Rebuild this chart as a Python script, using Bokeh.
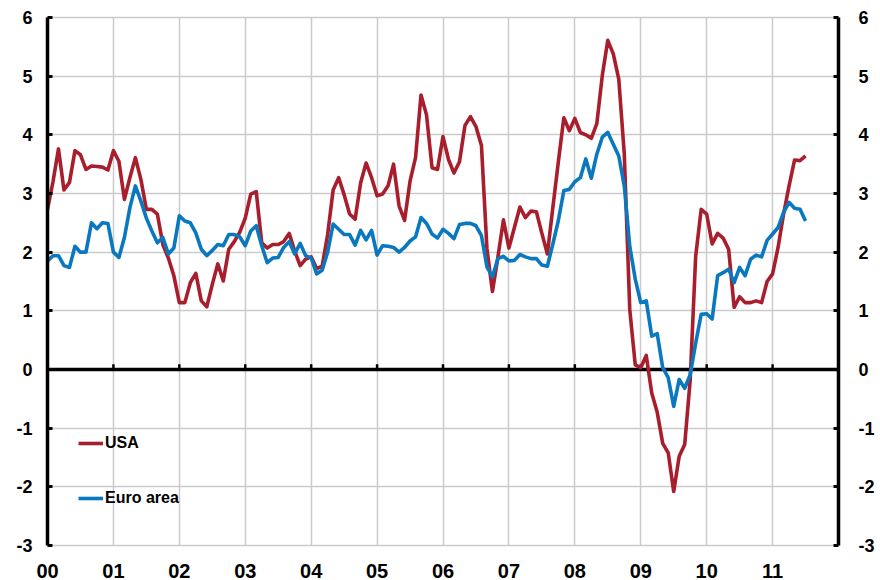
from bokeh.plotting import figure
from bokeh.models import (Range1d, LinearAxis, FixedTicker, Span, Legend, LegendItem)
from bokeh.embed import file_html
from bokeh.resources import INLINE

# ---- data (monthly, Jan 2000 - Jul 2011, % y/y) ----
usa = [
    2.73, 3.20, 3.76, 3.06, 3.19, 3.73, 3.66, 3.41, 3.47, 3.46, 3.45, 3.40,   # 2000
    3.73, 3.55, 2.90, 3.27, 3.61, 3.24, 2.73, 2.73, 2.65, 2.13, 1.90, 1.60,   # 2001
    1.14, 1.14, 1.48, 1.64, 1.17, 1.07, 1.45, 1.80, 1.51, 2.05, 2.18, 2.34,   # 2002
    2.58, 2.99, 3.03, 2.16, 2.07, 2.13, 2.13, 2.18, 2.32, 2.02, 1.77, 1.88,   # 2003
    1.92, 1.72, 1.76, 2.30, 3.06, 3.27, 2.98, 2.65, 2.56, 3.18, 3.52, 3.27,   # 2004
    2.96, 2.99, 3.13, 3.50, 2.79, 2.54, 3.21, 3.61, 4.68, 4.34, 3.44, 3.41,   # 2005
    3.97, 3.58, 3.35, 3.54, 4.16, 4.31, 4.14, 3.82, 2.06, 1.33, 1.92, 2.55,   # 2006
    2.07, 2.42, 2.77, 2.59, 2.70, 2.69, 2.32, 1.97, 2.76, 3.54, 4.29, 4.07,   # 2007
    4.28, 4.04, 4.00, 3.94, 4.19, 5.01, 5.61, 5.38, 4.95, 3.68, 1.02, 0.08,   # 2008
    0.03, 0.24, -0.40, -0.73, -1.26, -1.42, -2.08, -1.48, -1.28, -0.18, 1.93, 2.73,  # 2009
    2.65, 2.14, 2.32, 2.24, 2.05, 1.06, 1.24, 1.14, 1.14, 1.17, 1.14, 1.50,   # 2010
    1.63, 2.08, 2.65, 3.13, 3.57, 3.56, 3.64,                                 # 2011
]
euro = [
    1.85, 1.94, 1.94, 1.77, 1.74, 2.10, 2.00, 2.00, 2.50, 2.40, 2.50, 2.49,   # 2000
    2.00, 1.91, 2.25, 2.76, 3.13, 2.87, 2.58, 2.36, 2.16, 2.25, 1.97, 2.07,   # 2001
    2.62, 2.53, 2.50, 2.33, 2.05, 1.94, 2.03, 2.13, 2.11, 2.30, 2.30, 2.26,   # 2002
    2.11, 2.36, 2.45, 2.11, 1.82, 1.90, 1.91, 2.08, 2.18, 1.97, 2.15, 1.94,   # 2003
    1.90, 1.63, 1.69, 2.00, 2.48, 2.39, 2.30, 2.30, 2.12, 2.37, 2.21, 2.37,   # 2004
    1.95, 2.11, 2.10, 2.08, 2.00, 2.08, 2.19, 2.26, 2.59, 2.49, 2.31, 2.24,   # 2005
    2.39, 2.32, 2.23, 2.47, 2.49, 2.49, 2.45, 2.28, 1.75, 1.58, 1.89, 1.93,   # 2006
    1.85, 1.86, 1.96, 1.92, 1.89, 1.89, 1.78, 1.76, 2.14, 2.54, 3.05, 3.07,   # 2007
    3.20, 3.27, 3.59, 3.26, 3.67, 3.96, 4.04, 3.84, 3.64, 3.13, 2.10, 1.54,   # 2008
    1.14, 1.17, 0.57, 0.61, 0.03, -0.14, -0.63, -0.17, -0.32, -0.09, 0.45, 0.94,  # 2009
    0.95, 0.86, 1.60, 1.65, 1.71, 1.48, 1.74, 1.60, 1.88, 1.95, 1.92, 2.20,   # 2010
    2.31, 2.42, 2.68, 2.85, 2.75, 2.73, 2.53,                                 # 2011
]
year_labels = ["00", "01", "02", "03", "04", "05", "06", "07", "08", "09", "10", "11"]
y_ticks = [-3, -2, -1, 0, 1, 2, 3, 4, 5, 6]
y_labels = ["-3", "-2", "-1", "0", "1", "2", "3", "4", "5", "6"]
series_names = ["USA", "Euro area"]

RED = "#a81e2c"
BLUE = "#0a78be"
GRID = "#cbcbcb"
FONT = "Liberation Sans"

x_usa = [i / 12 for i in range(len(usa))]
x_euro = [i / 12 for i in range(len(euro))]
year_pos = list(range(len(year_labels)))
y_over = {t: s for t, s in zip(y_ticks, y_labels)}

p = figure(width=880, height=580, output_backend="svg", toolbar_location=None,
           x_range=Range1d(0, 12), y_range=Range1d(-3, 6),
           min_border_left=47, min_border_right=42, min_border_top=17,
           min_border_bottom=35, x_axis_location="below")
p.background_fill_color = "white"
p.border_fill_color = "white"
p.outline_line_color = GRID
p.outline_line_width = 1.5

# grids
p.xgrid.ticker = FixedTicker(ticks=list(range(0, 13)))
p.ygrid.ticker = FixedTicker(ticks=y_ticks)
for g in (p.xgrid, p.ygrid):
    g.grid_line_color = GRID
    g.grid_line_width = 1.5

# bottom axis: labels only
xa = p.xaxis[0]
xa.ticker = FixedTicker(ticks=year_pos)
xa.major_label_overrides = {i: lab for i, lab in zip(year_pos, year_labels)}
xa.axis_line_color = None
xa.major_tick_line_color = None
xa.minor_tick_line_color = None
xa.major_label_standoff = 12
xa.major_label_text_font = FONT
xa.major_label_text_font_style = "bold"
xa.major_label_text_font_size = "20px"
xa.major_label_text_color = "black"


def style_y(ax, standoff):
    ax.ticker = FixedTicker(ticks=y_ticks)
    ax.major_label_overrides = y_over
    ax.axis_line_width = 3.5
    ax.axis_line_color = "black"
    ax.major_tick_in = 5
    ax.major_tick_out = 0
    ax.major_tick_line_width = 3
    ax.minor_tick_line_color = None
    ax.major_label_standoff = standoff
    ax.major_label_text_font = FONT
    ax.major_label_text_font_style = "bold"
    ax.major_label_text_font_size = "18px"
    ax.major_label_text_color = "black"


style_y(p.yaxis[0], 15)
ra = LinearAxis()
style_y(ra, 20)
p.add_layout(ra, "right")

# zero line with small year ticks
zero = Span(location=0, dimension="width", line_color="black", line_width=3.5, level="underlay")
p.add_layout(zero)
p.segment(x0=year_pos[1:], y0=[0] * (len(year_pos) - 1), x1=year_pos[1:],
          y1=[0.09] * (len(year_pos) - 1), line_color="black", line_width=2.5)

r_usa = p.line(x_usa, usa, line_color=RED, line_width=3.6, line_join="round")
r_euro = p.line(x_euro, euro, line_color=BLUE, line_width=3.6, line_join="round")

legend = Legend(items=[LegendItem(label=series_names[0], renderers=[r_usa]),
                       LegendItem(label=series_names[1], renderers=[r_euro])],
                location=(31, 37), orientation="vertical",
                glyph_width=25, glyph_height=20, label_height=20,
                label_standoff=2, spacing=35, padding=0, margin=0,
                border_line_color=None, background_fill_alpha=0,
                label_text_font=FONT, label_text_font_style="bold",
                label_text_font_size="16px", label_text_color="black")
p.add_layout(legend, "center")

open("out.html", "w").write(file_html(p, INLINE))
